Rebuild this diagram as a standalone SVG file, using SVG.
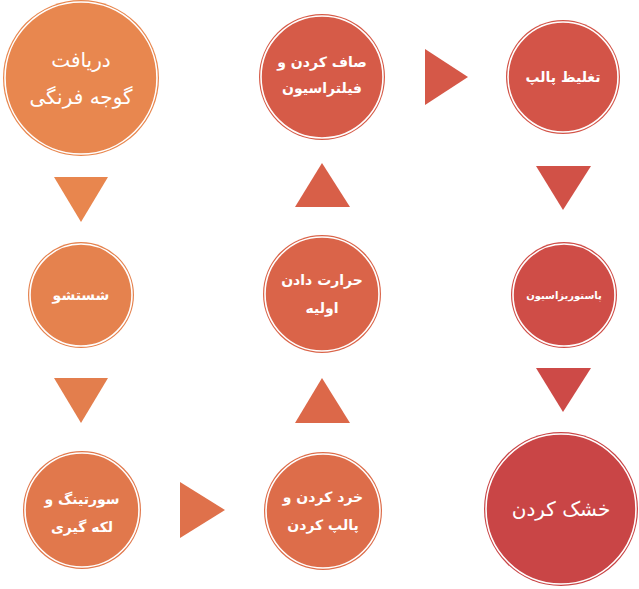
<svg xmlns="http://www.w3.org/2000/svg" width="639" height="589" viewBox="0 0 639 589">
<style>
  .ring{fill:none;stroke:#ffffff;stroke-width:1.6}
  .lbl{fill:#ffffff;font-family:'DejaVu Sans',sans-serif;font-weight:bold;font-size:14px;text-anchor:middle;direction:rtl;dominant-baseline:central}
  .big{font-weight:normal;font-size:20px}
  .sm{font-size:10px}
</style>
<rect width="639" height="589" fill="#ffffff"/>
<g id="connectors">
  <polygon points="54,177 108,177 81,222" fill="#E8864E"/>
  <polygon points="54,378 108,378 81,423" fill="#E37E4D"/>
  <polygon points="180,482 180,538 225,510" fill="#DF714B"/>
  <polygon points="295,423 350,423 322,378" fill="#DC6849"/>
  <polygon points="295,207 350,207 322,163" fill="#D85F48"/>
  <polygon points="425,49 425,105 468,77" fill="#D55848"/>
  <polygon points="536,166 591,166 563,210" fill="#D15147"/>
  <polygon points="536,368 591,368 563,412" fill="#CD4A47"/>
</g>
<g id="n1">
  <circle cx="81" cy="78" r="78" fill="#E8874F"/>
  <circle cx="81" cy="78" r="76" class="ring"/>
  <text class="lbl big" x="81" y="60">دریافت</text>
  <text class="lbl big" x="81" y="97">گوجه فرنگی</text>
</g>
<g id="n2">
  <circle cx="81" cy="295" r="53" fill="#E5824E"/>
  <circle cx="81" cy="295" r="51" class="ring"/>
  <text class="lbl" x="81" y="295">شستشو</text>
</g>
<g id="n3">
  <circle cx="82" cy="510" r="59" fill="#E1784C"/>
  <circle cx="82" cy="510" r="57" class="ring"/>
  <text class="lbl" x="82" y="499">سورتینگ و</text>
  <text class="lbl" x="82" y="527">لکه گیری</text>
</g>
<g id="n4">
  <circle cx="323" cy="511" r="59" fill="#DD6D4A"/>
  <circle cx="323" cy="511" r="57" class="ring"/>
  <text class="lbl" x="323" y="497">خرد کردن و</text>
  <text class="lbl" x="323" y="525">پالپ کردن</text>
</g>
<g id="n5">
  <circle cx="322" cy="294" r="59" fill="#DA6449"/>
  <circle cx="322" cy="294" r="57" class="ring"/>
  <text class="lbl" x="322" y="280">حرارت دادن</text>
  <text class="lbl" x="322" y="308">اولیه</text>
</g>
<g id="n6">
  <circle cx="322" cy="77" r="63" fill="#D65B48"/>
  <circle cx="322" cy="77" r="61" class="ring"/>
  <text class="lbl" x="322" y="62">صاف کردن و</text>
  <text class="lbl" x="322" y="88">فیلتراسیون</text>
</g>
<g id="n7">
  <circle cx="563" cy="77" r="57" fill="#D35448"/>
  <circle cx="563" cy="77" r="55" class="ring"/>
  <text class="lbl" x="563" y="77">تغلیظ پالپ</text>
</g>
<g id="n8">
  <circle cx="564" cy="295" r="53" fill="#CF4D47"/>
  <circle cx="564" cy="295" r="51" class="ring"/>
  <text class="lbl sm" x="564" y="295">پاستوریزاسیون</text>
</g>
<g id="n9">
  <circle cx="561" cy="509" r="77" fill="#C94546"/>
  <circle cx="561" cy="509" r="75" class="ring"/>
  <text class="lbl big" x="561" y="509">خشک کردن</text>
</g>
</svg>
